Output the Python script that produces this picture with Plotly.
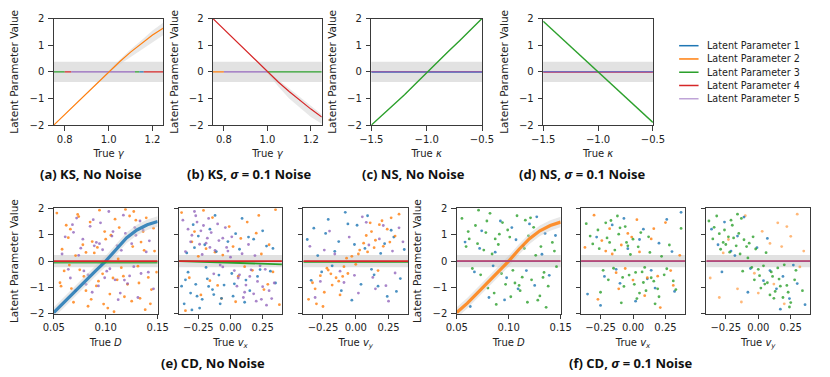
import plotly.graph_objects as go

W, H = 830, 377
COLORS = ["#1f77b4", "#ff7f0e", "#2ca02c", "#d62728", "#9467bd"]
LEGEND_NAMES = ["Latent Parameter 1", "Latent Parameter 2", "Latent Parameter 3",
                "Latent Parameter 4", "Latent Parameter 5"]
BAND = "rgb(226,226,226)"
SPREAD = "rgba(205,205,205,0.45)"
AXC = "#3a3a3a"
FONT = "DejaVu Sans"

# ---------------- top row: KS / NS line data ----------------
GAMMA = [0.75, 0.80, 0.85, 0.90, 0.95, 1.00, 1.05, 1.10, 1.15, 1.20, 1.25]
KS_CLEAN_P2 = [-2.0, -1.6, -1.2, -0.8, -0.4, 0.0, 0.38, 0.74, 1.06, 1.38, 1.65]
KS_CLEAN_HI = [-2.0, -1.6, -1.2, -0.8, -0.4, 0.03, 0.45, 0.84, 1.19, 1.55, 1.85]
KS_CLEAN_LO = [-2.0, -1.6, -1.2, -0.8, -0.4, -0.02, 0.28, 0.55, 0.82, 1.1, 1.38]
KS_NOISE_P4 = [2.0, 1.6, 1.2, 0.8, 0.4, 0.0, -0.38, -0.74, -1.08, -1.4, -1.7]
KS_NOISE_HI = [2.0, 1.6, 1.2, 0.8, 0.4, 0.02, -0.3, -0.62, -0.95, -1.28, -1.6]
KS_NOISE_LO = [2.0, 1.6, 1.2, 0.8, 0.4, -0.05, -0.55, -1.0, -1.35, -1.7, -1.95]

KAPPA = [-1.5, -1.4, -1.3, -1.2, -1.1, -1.0, -0.9, -0.8, -0.7, -0.6, -0.5]
NS_CLEAN_P3 = [-2.0, -1.63, -1.25, -0.86, -0.45, -0.03, 0.38, 0.78, 1.18, 1.59, 2.0]
NS_NOISE_P3 = [1.9, 1.52, 1.14, 0.76, 0.38, 0.0, -0.38, -0.76, -1.14, -1.52, -1.9]

# flat (inactive) parameters: (parameter index, x start, x end, value)
KS_CLEAN_FLAT = [(2, 0.75, 0.80, 0.0), (3, 0.80, 0.83, 0.0), (4, 0.83, 1.12, 0.0),
                 (2, 1.12, 1.14, 0.0), (0, 1.14, 1.16, 0.0), (3, 1.16, 1.25, 0.0)]
KS_NOISE_FLAT = [(1, 0.75, 0.80, 0.0), (4, 0.80, 1.00, 0.0), (2, 1.00, 1.25, 0.0)]
NS_CLEAN_FLAT = [(3, -1.5, -0.5, 0.015), (0, -1.5, -0.5, -0.01), (4, -1.5, -0.5, 0.0)]
NS_NOISE_FLAT = [(3, -1.5, -0.5, -0.015), (0, -1.5, -0.5, 0.01), (4, -1.5, -0.5, 0.0)]

# ---------------- bottom row: CD data ----------------
D_GRID = [0.05, 0.06, 0.07, 0.08, 0.09, 0.10, 0.11, 0.12, 0.13, 0.14, 0.15]
CD_CLEAN_P1 = [-1.95, -1.55, -1.15, -0.78, -0.38, 0.0, 0.45, 0.88, 1.18, 1.38, 1.5]
CD_NOISE_P2 = [-1.95, -1.6, -1.2, -0.8, -0.4, 0.0, 0.45, 0.85, 1.15, 1.35, 1.48]

E1_ORANGE_X = [0.053, 0.118, 0.087, 0.141, 0.066, 0.102, 0.129, 0.075, 0.094, 0.058, 0.136, 0.081, 0.111,
               0.147, 0.069, 0.123, 0.091, 0.105, 0.062, 0.133, 0.078, 0.115, 0.098, 0.144, 0.071, 0.126,
               0.085, 0.108, 0.056, 0.139, 0.097, 0.121, 0.064, 0.113, 0.083, 0.131, 0.074, 0.104, 0.149,
               0.089, 0.117, 0.060, 0.127, 0.093, 0.138, 0.079, 0.109, 0.067, 0.134, 0.100,
               0.057, 0.073, 0.086, 0.099, 0.112, 0.125, 0.137, 0.146, 0.065, 0.092, 0.119, 0.132,
               0.081, 0.107, 0.143]
E1_ORANGE_Y = [1.82, -1.35, 0.74, -0.62, 1.21, -1.78, 1.55, -0.33, 1.93, 0.45, 1.12, -1.12, -0.71,
               0.38, -1.56, 1.71, -0.94, 0.98, 1.36, -1.41, 0.62, -0.25, -1.63, -1.08, 0.21, 0.55,
               1.48, -1.92, -0.82, 1.64, -0.48, -0.88, 0.89, 1.27, -1.71, -0.19, 1.69, -1.25, -0.42,
               0.31, -0.57, -0.37, 1.88, -0.76, -1.84, -0.58, 1.59, -1.04, 0.72, 0.83,
               -0.95, 1.77, -1.45, 1.12, 0.08, -1.52, 0.41, 1.25, -0.15, 0.52, 1.96, -0.83,
               0.33, -0.64, -1.62]
E1_PURPLE_X = [0.061, 0.095, 0.121, 0.083, 0.107, 0.139, 0.072, 0.114, 0.089, 0.128, 0.066, 0.101, 0.134,
               0.078, 0.117, 0.093, 0.146, 0.085, 0.109, 0.058, 0.125, 0.097, 0.071, 0.131, 0.104, 0.088,
               0.119, 0.076, 0.142, 0.099, 0.112, 0.064, 0.136, 0.091, 0.123, 0.081, 0.115, 0.069, 0.106, 0.127,
               0.068, 0.079, 0.094, 0.103, 0.118, 0.129, 0.141, 0.087, 0.111, 0.074, 0.133, 0.096]
E1_PURPLE_Y = [0.92, 1.45, -0.85, -0.52, 1.12, 0.35, 1.63, -1.21, 0.58, 1.27, -0.64, -0.38, -0.47,
               0.83, 1.74, -0.94, -1.05, 1.32, -0.71, 0.27, 0.66, 0.43, -1.12, -1.38, -0.29, 1.57,
               1.05, 0.49, 0.77, -0.63, -1.46, -0.31, 1.18, 0.71, -0.56, -0.88, 0.41, 1.09, 0.95, -0.21,
               1.38, -0.37, 0.66, 1.88, -0.72, 0.98, -0.42, -1.18, 0.59, 0.22, 1.52, -0.11]

E2_BLUE_X = [-0.36, -0.31, -0.27, -0.22, -0.18, -0.33, -0.25, -0.14, -0.09, -0.29, -0.20, -0.05, 0.02,
             -0.38, -0.16, 0.07, 0.12, -0.24, 0.18, -0.11, 0.25, 0.31, -0.02, 0.09, -0.34, 0.15, 0.21,
             -0.07, 0.04, 0.28, -0.19, 0.35, -0.12, 0.01, -0.28, 0.11,
             -0.35, -0.26, -0.17, -0.08, 0.03, 0.14, 0.23, 0.33, -0.30, -0.13]
E2_BLUE_Y = [-1.62, -1.21, -0.88, -1.45, -0.67, -0.42, 0.95, -1.08, -0.53, 1.38, 0.62, -0.91, -1.33,
             -0.95, 1.21, 0.45, -0.72, -1.78, 0.83, 0.36, 1.15, -0.38, 0.74, 1.62, 0.31, -1.12, -0.58,
             -1.41, 1.04, 0.57, -0.24, -0.83, 1.73, -0.47, 0.51, -1.56,
             -0.71, -1.33, -0.96, -1.62, -0.86, 0.91, -0.32, 0.48, -1.85, -1.27]
E2_PURPLE_X = [-0.37, -0.33, -0.30, -0.27, -0.24, -0.21, -0.18, -0.15, -0.12, -0.09, -0.06, -0.03, 0.0,
               0.03, 0.06, 0.09, 0.12, 0.15, 0.18, 0.21, 0.24, 0.27, 0.30, 0.34, -0.35, -0.26, -0.17,
               -0.08, 0.01, 0.10, 0.19, 0.28, -0.22, -0.13, 0.05, 0.14, 0.23, -0.04,
               -0.31, -0.23, -0.16, -0.10, -0.02, 0.07, 0.16, 0.25, 0.32, -0.28, -0.19, -0.06, 0.11, 0.20]
E2_PURPLE_Y = [1.55, 1.21, 0.98, 1.72, 0.64, 1.35, 0.87, 1.08, 0.41, 0.78, -0.22, 0.52, 0.15,
               -0.36, -0.64, 0.28, -0.91, -0.58, -1.24, -0.77, -1.45, -0.31, -1.12, -0.83, 0.36, 1.48, 1.62,
               -0.15, 0.92, -1.38, 0.21, -1.67, 0.25, -0.48, -0.95, 0.63, -0.18, 1.27,
               0.73, 1.15, 0.52, 1.41, 0.38, -0.52, -0.33, -0.97, -1.42, 1.88, 0.68, 0.87, -1.18, -1.52]
E2_ORANGE_X = [-0.38, -0.32, -0.28, -0.23, -0.19, -0.14, -0.10, -0.06, -0.01, 0.04, 0.08, 0.13, 0.17,
               0.22, 0.26, 0.30, 0.35, 0.38, -0.35, -0.25, -0.16, -0.07, 0.02, 0.11, 0.20, 0.29, -0.30,
               -0.12, 0.06, 0.24, 0.33, -0.21]
E2_ORANGE_Y = [1.84, -0.63, 1.12, -1.28, 0.47, 1.65, -0.92, 0.23, 1.31, -1.54, 0.86, 1.48, -0.35,
               1.73, -1.08, 0.62, 1.95, -1.65, -1.88, 0.18, -0.74, -1.42, 0.55, -0.21, 1.06, -0.88, 0.73,
               0.34, -0.57, 0.27, -0.41, 1.92]
E2_GREEN_Y = [0.0, -0.12]

E3_ORANGE_X = [-0.36, -0.33, -0.30, -0.27, -0.24, -0.21, -0.18, -0.15, -0.12, -0.09, -0.06, -0.03, 0.0,
               0.03, 0.06, 0.09, 0.12, 0.15, 0.18, 0.21, 0.24, 0.27, 0.30, -0.31, -0.25, -0.19, -0.13,
               -0.07, 0.02, 0.08, 0.14, 0.20, 0.26, -0.22, 0.11, 0.33, 0.17, -0.10]
E3_ORANGE_Y = [-1.45, -0.82, -1.62, -0.55, -1.18, -0.34, -0.91, -0.63, -1.28, -0.21, -0.47, 0.18, -0.12,
               0.42, 0.68, 0.35, 1.12, 0.79, 1.38, 0.56, 1.21, 1.64, 0.95, -1.05, -1.72, -0.48, -0.76,
               0.11, 0.27, 0.97, 0.51, 1.53, 0.72, -0.27, 1.45, 1.78, -0.36, -0.58]
E3_BLUE_X = [-0.37, -0.32, -0.26, -0.21, -0.16, -0.11, -0.06, -0.01, 0.04, 0.09, 0.14, 0.19, 0.24, 0.29,
             0.34, -0.34, -0.23, -0.13, -0.03, 0.07, 0.17, 0.27, -0.29, -0.18, 0.01, 0.12, 0.22, 0.31,
             -0.08, 0.37]
E3_BLUE_Y = [0.82, 1.25, -0.41, 1.58, 0.37, -1.12, 1.41, 0.63, -0.88, 1.72, -0.52, 0.29, -1.34, 0.91,
             -0.66, -0.73, 1.05, 0.74, -1.48, 0.48, -0.95, 1.17, 0.21, -0.18, 1.36, -0.31, 0.66, -1.15,
             1.85, 0.44]
E3_PURPLE_X = [-0.35, -0.27, -0.20, -0.12, -0.05, 0.02, 0.08, 0.13, 0.18, 0.23, 0.28, 0.33, -0.31, -0.16,
               -0.01, 0.10, 0.21, 0.30, 0.05, 0.15, 0.25, -0.24, 0.36, -0.09]
E3_PURPLE_Y = [0.56, -0.77, 1.14, -0.38, 0.91, -1.21, 1.47, -0.62, 0.84, -0.93, 0.38, 1.26, -1.38, 0.27,
               -0.54, 0.61, 1.35, -0.45, 1.68, -1.05, -1.52, 0.42, 0.73, -0.81]

F1_GREEN_X = [0.055, 0.062, 0.068, 0.073, 0.078, 0.082, 0.086, 0.090, 0.094, 0.097, 0.101, 0.104, 0.108,
              0.111, 0.115, 0.118, 0.122, 0.126, 0.130, 0.134, 0.138, 0.142, 0.146, 0.065, 0.076, 0.088,
              0.099, 0.113, 0.124, 0.136, 0.071, 0.084, 0.106, 0.119, 0.131, 0.093, 0.080, 0.128, 0.059, 0.116,
              0.061, 0.070, 0.079, 0.091, 0.102, 0.110, 0.121, 0.133, 0.144, 0.087]
F1_GREEN_Y = [1.62, 0.84, 1.35, -0.52, 1.08, 1.81, -1.21, 0.63, 1.46, -0.88, 0.91, -0.35, 1.72,
              -1.12, 0.48, -1.56, -0.71, 0.22, -1.32, -0.43, -0.95, 0.71, -0.21, -0.28, 0.42, -1.64,
              1.18, -0.61, 1.28, -1.75, 1.93, 0.27, -0.83, 0.96, 0.55, -0.47, -1.02, -1.48, 0.55, 1.55,
              1.12, 0.66, 1.52, 1.02, -1.35, -0.92, 1.64, -0.62, 0.38, 0.84]
F1_BLUE_X = [0.058, 0.067, 0.074, 0.081, 0.087, 0.092, 0.098, 0.103, 0.109, 0.114, 0.120, 0.125, 0.132,
             0.139, 0.145, 0.063, 0.085, 0.107, 0.127, 0.096, 0.117, 0.072, 0.135]
F1_BLUE_Y = [0.72, -0.41, 1.15, -1.38, 0.34, 1.52, -0.63, 1.27, -1.05, 0.58, 1.41, -0.92, 0.26,
             -0.54, 0.97, -1.72, -0.18, 0.81, 1.68, -1.47, -0.36, 0.48, 1.05]

F2_GREEN_X = [-0.36, -0.31, -0.27, -0.23, -0.20, -0.17, -0.14, -0.11, -0.08, -0.05, -0.02, 0.01, 0.04,
              0.07, 0.10, 0.13, 0.16, 0.20, 0.24, 0.28, 0.33, -0.25, -0.15, -0.06, 0.03, 0.12, 0.22,
              -0.19, -0.09, 0.06, 0.17, -0.12, 0.0, 0.09, -0.03, 0.37,
              -0.33, -0.26, -0.18, -0.10, -0.04, 0.02, 0.08, 0.14, 0.19, 0.26, 0.31, -0.21, -0.07, 0.05]
F2_GREEN_Y = [1.42, 0.65, 1.18, -0.35, 0.88, 1.54, 0.42, 1.02, -0.62, 0.71, 0.25, -0.88, 0.54,
              -0.41, -1.12, 0.33, -0.76, -1.35, -0.52, 0.61, -1.08, -1.18, -0.27, 1.31, -1.42, 0.92, 0.18,
              -0.71, -1.58, 1.08, -1.62, 1.71, 0.83, -0.24, -0.53, 1.24,
              0.95, 0.47, 0.71, 1.26, 0.58, -0.43, -0.81, -0.63, -1.05, -0.29, -0.75, 1.45, -0.96, -1.21]
F2_ORANGE_X = [-0.37, -0.30, -0.24, -0.18, -0.13, -0.09, -0.04, 0.0, 0.05, 0.09, 0.14, 0.19, 0.25,
               0.31, 0.36, -0.27, -0.16, -0.06, 0.03, 0.11, 0.21, -0.21, -0.01, 0.16, 0.29, -0.11]
F2_ORANGE_Y = [0.52, 1.74, 0.78, 1.23, -0.44, 0.61, 1.05, -0.72, 0.35, -1.31, 0.84, -0.57, 1.46,
               -0.92, 0.22, -1.45, 0.27, -0.28, 1.57, -0.63, -1.76, 0.38, 0.91, 1.23, -0.36, -1.05]
F2_BLUE_X = [-0.35, -0.28, -0.22, -0.16, -0.10, -0.04, 0.02, 0.08, 0.14, 0.20, 0.26, 0.32, 0.37,
             -0.25, -0.13, 0.05, 0.17, 0.30, -0.07, 0.11]
F2_BLUE_Y = [-1.25, 0.91, -0.58, 1.37, -0.84, 0.47, -1.52, 1.21, -0.35, 0.68, 1.58, -1.15, 1.85,
             -1.68, -0.31, 0.82, -1.02, 0.36, 1.62, -0.67]

F3_GREEN_X = [-0.38, -0.35, -0.32, -0.29, -0.26, -0.23, -0.20, -0.17, -0.14, -0.11, -0.08, -0.05, -0.02,
              0.01, 0.04, 0.07, 0.10, 0.13, 0.16, 0.19, 0.22, 0.25, 0.29, 0.34, -0.30, -0.21, -0.12,
              -0.03, 0.06, 0.15, 0.24, -0.25, -0.15, 0.02, 0.11, 0.20, -0.07, 0.09,
              -0.34, -0.27, -0.19, -0.13, -0.09, -0.04, 0.0, 0.05, 0.12, 0.17, 0.23, 0.28, -0.22, -0.16]
F3_GREEN_Y = [1.52, 0.84, 1.71, 0.45, 1.18, 0.92, 1.36, 0.58, 0.27, 0.81, 0.12, -0.24, 0.46,
              -0.55, -0.18, -0.82, -0.41, -1.15, -0.68, -1.38, -0.92, -1.57, -0.35, -1.12, 1.04, 1.55, -0.38,
              -0.71, 0.32, -0.26, -1.74, 0.63, 1.05, -1.02, -0.58, -0.14, 0.68, -1.28,
              1.28, 0.71, 0.88, 1.62, 0.55, 0.92, -0.31, -0.87, -1.41, -0.95, -1.18, -0.71, 0.34, 1.78]
F3_BLUE_X = [-0.36, -0.31, -0.26, -0.21, -0.16, -0.11, -0.06, -0.01, 0.04, 0.09, 0.14, 0.19, 0.24, 0.30,
             0.36, -0.28, -0.18, -0.08, 0.07, 0.17, 0.27]
F3_BLUE_Y = [1.21, 0.62, 1.48, 0.38, 0.95, 1.67, -0.28, 0.51, -0.74, -0.36, -1.05, -0.58, -1.42, -0.85,
             -1.65, -0.41, 0.21, -1.18, 0.86, -1.82, -0.15]
F3_ORANGE_X = [-0.37, -0.30, -0.23, -0.16, -0.10, -0.03, 0.03, 0.09, 0.15, 0.20, 0.25, 0.30, 0.35,
               -0.27, -0.13, 0.0, 0.12, 0.22, 0.32, 0.18]
F3_ORANGE_Y = [-0.64, -1.38, 0.82, -1.05, 1.72, -0.46, 1.13, 0.67, 1.45, -1.62, 0.94, 1.78, 0.38,
               0.31, -1.55, -1.21, -0.87, 1.31, -0.22, 0.55]

TOP_BAND = 0.38
BOTTOM_BAND = 0.23

# ---------------- panel layout (pixel boxes) ----------------
PANELS = [
    # (x0, x1, y0, y1, xrange, tickvals, tickformat, xtitle, ytitle?)
    (43, 156, 13, 123, [0.75, 1.25], [0.8, 1.0, 1.2], ".1f", "True <i>γ</i>", True),
    (207, 319, 13, 123, [0.75, 1.25], [0.8, 1.0, 1.2], ".1f", "True <i>γ</i>", True),
    (370, 484, 13, 123, [-1.5, -0.5], [-1.5, -1.0, -0.5], ".1f", "True <i>κ</i>", True),
    (547, 660, 13, 123, [-1.5, -0.5], [-1.5, -1.0, -0.5], ".1f", "True <i>κ</i>", True),
    (43, 150, 209, 318, [0.05, 0.15], [0.05, 0.10, 0.15], ".2f", "True <i>D</i>", True),
    (172, 278, 209, 318, [-0.4, 0.4], [-0.25, 0.0, 0.25], ".2f", "True <i>v<sub>x</sub></i>", False),
    (300, 408, 209, 318, [-0.4, 0.4], [-0.25, 0.0, 0.25], ".2f", "True <i>v<sub>y</sub></i>", False),
    (458, 565, 209, 318, [0.05, 0.15], [0.05, 0.10, 0.15], ".2f", "True <i>D</i>", True),
    (586, 693, 209, 318, [-0.4, 0.4], [-0.25, 0.0, 0.25], ".2f", "True <i>v<sub>x</sub></i>", False),
    (715, 822, 209, 318, [-0.4, 0.4], [-0.25, 0.0, 0.25], ".2f", "True <i>v<sub>y</sub></i>", False),
]

fig = go.Figure()
shapes = []
layout = {}

for i, (x0, x1, y0, y1, xr, tv, tf, xt, show_y) in enumerate(PANELS, start=1):
    sfx = "" if i == 1 else str(i)
    layout["xaxis" + sfx] = dict(
        domain=[x0 / W, x1 / W], anchor="y" + sfx, range=xr, tickvals=tv, tickformat=tf,
        showline=True, mirror=True, linecolor=AXC, linewidth=1, ticks="outside", ticklen=4.5,
        tickcolor=AXC, showgrid=False, zeroline=False, tickfont=dict(size=10, color="#222"),
        title=dict(text=xt, font=dict(size=10, color="#222"), standoff=6),
    )
    yax = dict(
        domain=[1 - y1 / H, 1 - y0 / H], anchor="x" + sfx, range=[-2, 2], tickvals=[-2, -1, 0, 1, 2],
        showticklabels=show_y, showline=True, mirror=True, linecolor=AXC, linewidth=1,
        ticks="outside", ticklen=4.5, tickcolor=AXC, showgrid=False, zeroline=False,
        tickfont=dict(size=10, color="#222"), ticklabelstandoff=2,
    )
    if show_y:
        yax["title"] = dict(text="Latent Parameter Value", font=dict(size=10.5, color="#222"), standoff=8)
    layout["yaxis" + sfx] = yax
    band = TOP_BAND if i <= 4 else BOTTOM_BAND
    shapes.append(dict(type="rect", xref="x" + sfx + " domain", yref="y" + sfx, x0=0, x1=1,
                       y0=-band, y1=band, fillcolor=BAND, line_width=0, layer="below"))


def ax(i):
    return ("x" if i == 1 else "x%d" % i), ("y" if i == 1 else "y%d" % i)


def line(i, x, y, c, width=1.2, opacity=1.0):
    xa, ya = ax(i)
    fig.add_trace(go.Scatter(x=x, y=y, xaxis=xa, yaxis=ya, mode="lines", opacity=opacity,
                             line=dict(color=COLORS[c], width=width), showlegend=False, hoverinfo="skip"))


def spread(i, x, lo, hi):
    xa, ya = ax(i)
    fig.add_trace(go.Scatter(x=x, y=hi, xaxis=xa, yaxis=ya, mode="lines", line=dict(width=0),
                             showlegend=False, hoverinfo="skip"))
    fig.add_trace(go.Scatter(x=x, y=lo, xaxis=xa, yaxis=ya, mode="lines", line=dict(width=0),
                             fill="tonexty", fillcolor=SPREAD, showlegend=False, hoverinfo="skip"))


def cloud(i, x, y, c, opacity=0.8):
    xa, ya = ax(i)
    fig.add_trace(go.Scatter(x=x, y=y, xaxis=xa, yaxis=ya, mode="markers", opacity=opacity,
                             marker=dict(color=COLORS[c], size=2.8, line_width=0),
                             showlegend=False, hoverinfo="skip"))


def flats(i, segs, width=1.1):
    for c, xs, xe, v in segs:
        line(i, [xs, xe], [v, v], c, width)


# top row
spread(1, GAMMA, KS_CLEAN_LO, KS_CLEAN_HI)
flats(1, KS_CLEAN_FLAT)
line(1, GAMMA, KS_CLEAN_P2, 1)
spread(2, GAMMA, KS_NOISE_LO, KS_NOISE_HI)
flats(2, KS_NOISE_FLAT)
line(2, GAMMA, KS_NOISE_P4, 3)
flats(3, NS_CLEAN_FLAT)
line(3, KAPPA, NS_CLEAN_P3, 2, width=1.4)
flats(4, NS_NOISE_FLAT)
line(4, KAPPA, NS_NOISE_P3, 2, width=1.4)

# bottom row, no noise
cloud(5, E1_ORANGE_X, E1_ORANGE_Y, 1)
cloud(5, E1_PURPLE_X, E1_PURPLE_Y, 4)
spread(5, D_GRID, [v - 0.2 for v in CD_CLEAN_P1], [v + 0.2 for v in CD_CLEAN_P1])
line(5, D_GRID, CD_CLEAN_P1, 0, width=3.2, opacity=0.85)
line(5, [0.05, 0.15], [-0.04, -0.04], 2, width=2.5, opacity=0.8)
line(5, [0.05, 0.15], [0.0, 0.0], 3, width=1.8)

cloud(6, E2_ORANGE_X, E2_ORANGE_Y, 1)
cloud(6, E2_BLUE_X, E2_BLUE_Y, 0)
cloud(6, E2_PURPLE_X, E2_PURPLE_Y, 4)
line(6, [-0.4, 0.4], E2_GREEN_Y, 2, width=1.8)
line(6, [-0.4, 0.4], [0.0, 0.0], 3, width=1.8)

cloud(7, E3_BLUE_X, E3_BLUE_Y, 0)
cloud(7, E3_PURPLE_X, E3_PURPLE_Y, 4)
cloud(7, E3_ORANGE_X, E3_ORANGE_Y, 1)
line(7, [-0.4, 0.4], [-0.03, -0.03], 2, width=1.8)
line(7, [-0.4, 0.4], [0.0, 0.0], 3, width=1.8)

# bottom row, noisy
cloud(8, F1_BLUE_X, F1_BLUE_Y, 0)
cloud(8, F1_GREEN_X, F1_GREEN_Y, 2)
spread(8, D_GRID, [v - 0.2 for v in CD_NOISE_P2], [v + 0.2 for v in CD_NOISE_P2])
line(8, D_GRID, CD_NOISE_P2, 1, width=3.2, opacity=0.85)
line(8, [0.05, 0.15], [0.0, 0.0], 3, width=1.8)
line(8, [0.05, 0.15], [0.0, 0.0], 4, width=1.2, opacity=0.8)

cloud(9, F2_BLUE_X, F2_BLUE_Y, 0)
cloud(9, F2_ORANGE_X, F2_ORANGE_Y, 1)
cloud(9, F2_GREEN_X, F2_GREEN_Y, 2)
line(9, [-0.4, 0.4], [0.0, 0.0], 3, width=1.8)
line(9, [-0.4, 0.4], [0.0, 0.0], 4, width=1.2, opacity=0.8)

cloud(10, F3_ORANGE_X, F3_ORANGE_Y, 1, opacity=0.55)
cloud(10, F3_BLUE_X, F3_BLUE_Y, 0)
cloud(10, F3_GREEN_X, F3_GREEN_Y, 2)
line(10, [-0.4, 0.4], [0.0, 0.0], 3, width=1.8)
line(10, [-0.4, 0.4], [0.0, 0.0], 4, width=1.2, opacity=0.8)

# legend drawn by hand so the row spacing matches
annotations = []
for k, name in enumerate(LEGEND_NAMES):
    yy = 41 + k * 13.7
    col = COLORS[k] if k < 4 else "rgba(148,103,189,0.6)"
    shapes.append(dict(type="line", xref="paper", yref="paper", x0=687 / W, x1=707 / W,
                       y0=1 - yy / H, y1=1 - yy / H, line=dict(color=col, width=1.5)))
    annotations.append(dict(xref="paper", yref="paper", x=714 / W, y=1 - yy / H, text=name,
                            showarrow=False, xanchor="left", yanchor="middle",
                            font=dict(size=9.6, color="#222", family=FONT)))

CAPTIONS = [
    (81, 174, "(a) KS, No Noise"),
    (245, 174, "(b) KS, <i>σ</i> = 0.1 Noise"),
    (413, 174, "(c) NS, No Noise"),
    (587, 174, "(d) NS, <i>σ</i> = 0.1 Noise"),
    (207, 369, "(e) CD, No Noise"),
    (637, 369, "(f) CD, <i>σ</i> = 0.1 Noise"),
]
for cx, cy, txt in CAPTIONS:
    annotations.append(dict(xref="paper", yref="paper", x=cx / W, y=1 - cy / H, text="<b>%s</b>" % txt,
                            showarrow=False, xanchor="center", yanchor="middle",
                            font=dict(size=13, color="#111", family="Open Sans")))

fig.update_layout(
    width=W, height=H, margin=dict(l=0, r=0, t=0, b=0),
    paper_bgcolor="white", plot_bgcolor="white",
    font=dict(family=FONT, size=10, color="#222"),
    showlegend=False, shapes=shapes, annotations=annotations, **layout,
)

fig.write_html("out.html", config={"displayModeBar": False},
               post_script="document.body.style.margin = '0';")
